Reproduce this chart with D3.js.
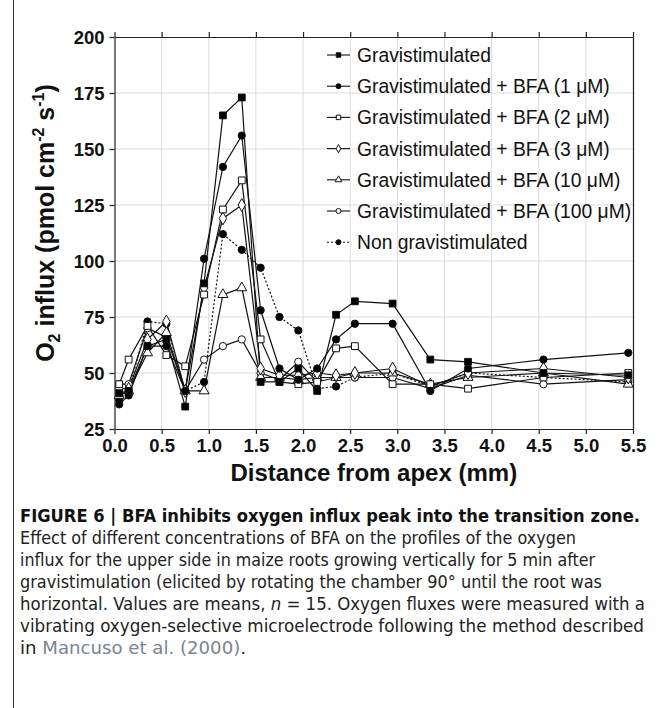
<!DOCTYPE html>
<html><head><meta charset="utf-8">
<script src="https://cdn.jsdelivr.net/npm/d3@7"></script>
<style>
html,body{margin:0;padding:0;background:#fff;}
svg{display:block;}
</style></head>
<body>
<svg id="c" width="665" height="708"></svg>
<script>
const distances = [0.05,0.15,0.35,0.55,0.75,0.95,1.15,1.35,1.55,1.75,1.95,2.15,2.35,2.55,2.95,3.35,3.75,4.55,5.45];
const gravistimulated = [41,42,62,65,35,90,165,173,46,46,52,42,76,82,81,56,55,50,49];
const bfa1 = [36,40,62,62,42,101,142,156,78,52,47,52,65,72,72,42,52,56,59];
const bfa2 = [45,56,71,58,53,85,123,136,65,46,45,46,61,62,45,45,43,48,50];
const bfa3 = [43,43,65,73,42,88,119,125,52,49,49,50,49,50,52,44,50,52,48];
const bfa10 = [40,42,59,68,42,42,85,88,48,48,47,48,48,50,50,45,48,50,45];
const bfa100 = [45,45,70,66,42,56,62,65,50,47,55,46,48,48,48,43,49,45,47];
const nonGrav = [38,42,73,72,42,46,112,105,97,75,69,43,44,48,50,44,50,48,46];
const seriesNames = ["Gravistimulated","Gravistimulated + BFA (1 μM)","Gravistimulated + BFA (2 μM)","Gravistimulated + BFA (3 μM)","Gravistimulated + BFA (10 μM)","Gravistimulated + BFA (100 μM)","Non gravistimulated"];
const xTicks = [0,0.5,1,1.5,2,2.5,3,3.5,4,4.5,5,5.5];
const yTicks = [25,50,75,100,125,150,175,200];
const captionTitle = "FIGURE 6 | BFA inhibits oxygen influx peak into the transition zone.";
const captionLines = [
 "Effect of different concentrations of BFA on the profiles of the oxygen",
 "influx for the upper side in maize roots growing vertically for 5 min after",
 "gravistimulation (elicited by rotating the chamber 90° until the root was"
];

const seriesData = [gravistimulated,bfa1,bfa2,bfa3,bfa10,bfa100,nonGrav];
const symbols = [d3.symbolSquare,d3.symbolCircle,d3.symbolSquare,d3.symbolDiamond,d3.symbolTriangle,d3.symbolCircle,d3.symbolCircle];
const fills = ["#000","#000","#fff","#fff","#fff","#fff","#000"];
const dashes = [null,null,null,null,null,null,"2,2"];
const sizes = [46,42,46,48,44,42,42];

const svg = d3.select("#c");
const F = "'Liberation Sans', Arial, sans-serif";
const x = d3.scaleLinear().domain([0,5.5]).range([114.5,633]);
const y = d3.scaleLinear().domain([25,200]).range([429,37]);

// frame line at left
svg.append("line").attr("x1",13.5).attr("x2",13.5).attr("y1",0).attr("y2",708).attr("stroke","#333").attr("stroke-width",1);

// grid
const g = svg.append("g");
g.selectAll(".gx").data(xTicks.slice(1,-1)).enter().append("line")
 .attr("x1",d=>x(d)).attr("x2",d=>x(d)).attr("y1",y(25)).attr("y2",y(200))
 .attr("stroke","#dcdcdc").attr("stroke-width",1);
g.selectAll(".gy").data(yTicks.slice(1,-1)).enter().append("line")
 .attr("x1",x(0)).attr("x2",x(5.5)).attr("y1",d=>y(d)).attr("y2",d=>y(d))
 .attr("stroke","#dcdcdc").attr("stroke-width",1);

// axes
const ax = svg.append("g").attr("transform",`translate(0,${y(25)})`)
 .call(d3.axisBottom(x).tickValues(xTicks).tickFormat(d3.format(".1f")).tickSize(5).tickSizeOuter(0));
const axT = svg.append("g").attr("transform",`translate(0,${y(200)})`)
 .call(d3.axisTop(x).tickValues(xTicks).tickFormat("").tickSize(5).tickSizeOuter(0));
const ay = svg.append("g").attr("transform",`translate(${x(0)},0)`)
 .call(d3.axisLeft(y).tickValues(yTicks).tickSize(5).tickSizeOuter(0));
const ayR = svg.append("g").attr("transform",`translate(${x(5.5)},0)`)
 .call(d3.axisRight(y).tickValues(yTicks).tickFormat("").tickSize(0).tickSizeOuter(0));
[ax,axT,ay,ayR].forEach(a=>{
  a.selectAll("path,line").attr("stroke","#222").attr("stroke-width",1.2);
  a.selectAll("text").attr("font-family",F).attr("font-weight","bold").attr("font-size",18.5).attr("fill","#111");
});
ax.selectAll("text").attr("dy","0.8em");
ay.selectAll("text").attr("dx","-2").attr("dy","0.34em");

// lines and markers (draw in reverse so first series on top)
const line = d3.line().x((d,i)=>x(distances[i])).y(d=>y(d));
for (let s=seriesData.length-1;s>=0;s--){
  svg.append("path").datum(seriesData[s]).attr("d",line).attr("fill","none")
   .attr("stroke","#111").attr("stroke-width",1.2).attr("stroke-dasharray",dashes[s]);
}
for (let s=seriesData.length-1;s>=0;s--){
  const sym = d3.symbol().type(symbols[s]).size(sizes[s]);
  svg.append("g").selectAll("path").data(seriesData[s]).enter().append("path")
   .attr("d",sym).attr("transform",(d,i)=>`translate(${x(distances[i])},${y(d)})`)
   .attr("fill",fills[s]).attr("stroke","#111").attr("stroke-width",1);
}

// legend
const lg = svg.append("g");
seriesNames.forEach((name,i)=>{
  const yy = 55 + i*31.2;
  lg.append("line").attr("x1",327).attr("x2",350).attr("y1",yy).attr("y2",yy)
   .attr("stroke","#111").attr("stroke-width",1.1).attr("stroke-dasharray",dashes[i]);
  lg.append("path").attr("d",d3.symbol().type(symbols[i]).size(20)())
   .attr("transform",`translate(338.5,${yy})`).attr("fill",fills[i]).attr("stroke","#111").attr("stroke-width",1);
  lg.append("text").attr("x",357).attr("y",yy).attr("dy","0.36em")
   .attr("font-family",F).attr("font-size",19.3).attr("fill","#111").text(name);
});

// axis titles
svg.append("text").attr("x",(x(0)+x(5.5))/2).attr("y",481).attr("text-anchor","middle")
 .attr("font-family",F).attr("font-weight","bold").attr("font-size",24).attr("fill","#111")
 .text("Distance from apex (mm)");
const yt = svg.append("text").attr("transform","translate(54,223) rotate(-90)").attr("text-anchor","middle")
 .attr("font-family",F).attr("font-weight","bold").attr("font-size",25).attr("fill","#111");
yt.append("tspan").text("O");
yt.append("tspan").attr("font-size",16).attr("dy",6).text("2");
yt.append("tspan").attr("dy",-6).text(" influx (pmol cm");
yt.append("tspan").attr("font-size",16).attr("dy",-10).text("-2");
yt.append("tspan").attr("dy",10).text(" s");
yt.append("tspan").attr("font-size",16).attr("dy",-10).text("-1");
yt.append("tspan").attr("dy",10).text(")");

// caption
const CF = "'Liberation Sans Narrow','DejaVu Sans Condensed','Liberation Sans',sans-serif";
const cy0 = 522, lh = 22;
svg.append("text").attr("x",20).attr("y",cy0).attr("font-family",CF).attr("font-weight","bold")
 .attr("font-size",17).attr("fill","#111").attr("textLength",620).attr("lengthAdjust","spacingAndGlyphs").text(captionTitle);
const capW = [556,575,582];
captionLines.forEach((t,i)=>{
  svg.append("text").attr("x",20).attr("y",cy0+lh*(i+1)).attr("font-family",CF)
   .attr("font-size",17).attr("fill","#222").attr("textLength",capW[i]).attr("lengthAdjust","spacingAndGlyphs").text(t);
});
// line with italic n
const l4 = svg.append("text").attr("x",20).attr("y",cy0+lh*4).attr("font-family",CF).attr("font-size",17).attr("fill","#222")
 .attr("textLength",625).attr("lengthAdjust","spacingAndGlyphs");
l4.append("tspan").text("horizontal. Values are means, ");
l4.append("tspan").attr("font-style","italic").text("n");
l4.append("tspan").text(" = 15. Oxygen fluxes were measured with a");
svg.append("text").attr("x",20).attr("y",cy0+lh*5).attr("font-family",CF).attr("font-size",17).attr("fill","#222")
 .attr("textLength",624).attr("lengthAdjust","spacingAndGlyphs")
 .text("vibrating oxygen-selective microelectrode following the method described");
const l6 = svg.append("text").attr("x",20).attr("y",cy0+lh*6).attr("font-family",CF).attr("font-size",17).attr("fill","#222")
 .attr("textLength",226).attr("lengthAdjust","spacingAndGlyphs");
l6.append("tspan").text("in ");
l6.append("tspan").attr("fill","#7a8590").text("Mancuso et al. (2000)");
l6.append("tspan").text(".");
</script>
</body></html>
